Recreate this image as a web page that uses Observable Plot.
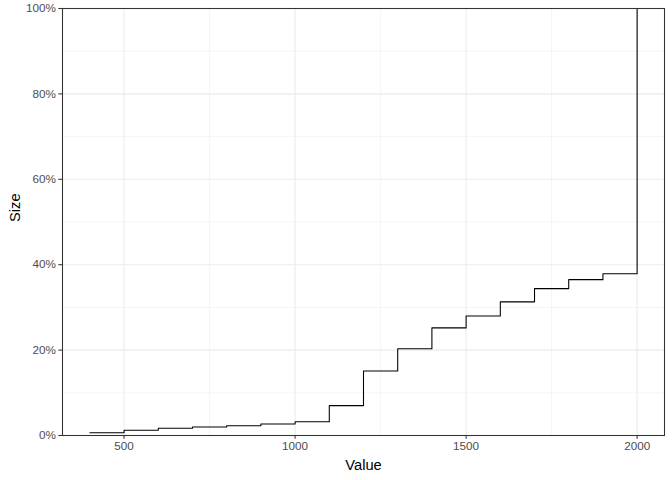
<!DOCTYPE html>
<html>
<head>
<meta charset="utf-8">
<script src="https://cdn.jsdelivr.net/npm/d3@7"></script>
<script src="https://cdn.jsdelivr.net/npm/@observablehq/plot@0.6"></script>
<style>
  html, body { margin: 0; padding: 0; background: #fff; }
  #chart { width: 672px; height: 480px; }
</style>
</head>
<body>
<div id="chart"></div>
<script>
const values = [400, 500, 600, 700, 800, 900, 1000, 1100, 1200, 1300, 1400, 1500, 1600, 1700, 1800, 1900, 2000];
const sizes = [0.0063, 0.0124, 0.017, 0.020, 0.023, 0.027, 0.032, 0.070, 0.151, 0.203, 0.252, 0.280, 0.313, 0.344, 0.365, 0.379, 1.0];
const xTicks = [500, 1000, 1500, 2000];
const xMinor = [750, 1250, 1750];
const yTicks = [0, 0.2, 0.4, 0.6, 0.8, 1.0];
const yMinor = [0.1, 0.3, 0.5, 0.7, 0.9];
const xLabel = "Value";
const yLabel = "Size";

const data = values.map((v, i) => ({value: v, size: sizes[i]}));
const font = "'Liberation Sans', Arial, sans-serif";

const chart = Plot.plot({
  width: 672,
  height: 480,
  marginLeft: 62,
  marginRight: 8,
  marginTop: 8,
  marginBottom: 45,
  style: {fontFamily: font, background: "#fff"},
  x: {domain: [320, 2080]},
  y: {domain: [0, 1]},
  marks: [
    Plot.ruleX(xMinor, {stroke: "#EBEBEB", strokeWidth: 0.55}),
    Plot.ruleY(yMinor, {stroke: "#EBEBEB", strokeWidth: 0.55}),
    Plot.ruleX(xTicks, {stroke: "#EBEBEB", strokeWidth: 1.07}),
    Plot.ruleY(yTicks, {stroke: "#EBEBEB", strokeWidth: 1.07}),
    Plot.lineY(data, {x: "value", y: "size", curve: "step-after", stroke: "#000", strokeWidth: 1.07}),
    Plot.frame({stroke: "#333333", strokeWidth: 1.07}),
    Plot.axisX(xTicks, {tickSize: 3.67, tickPadding: 2.9, stroke: "#333333", strokeWidth: 1.07, fill: "#4D4D4D", fontSize: 11.7, label: null, tickFormat: d => String(d)}),
    Plot.axisY(yTicks, {tickSize: 3.67, tickPadding: 2.9, stroke: "#333333", strokeWidth: 1.07, fill: "#4D4D4D", fontSize: 11.7, label: null, tickFormat: d => Math.round(d * 100) + "%"}),
    Plot.text([xLabel], {frameAnchor: "bottom", dy: 30, text: d => d, fontSize: 14.7, fill: "#000", lineAnchor: "middle"}),
    Plot.text([yLabel], {frameAnchor: "left", dx: -47, rotate: -90, text: d => d, fontSize: 14.7, fill: "#000", lineAnchor: "middle"})
  ]
});
document.getElementById("chart").appendChild(chart);
</script>
</body>
</html>
